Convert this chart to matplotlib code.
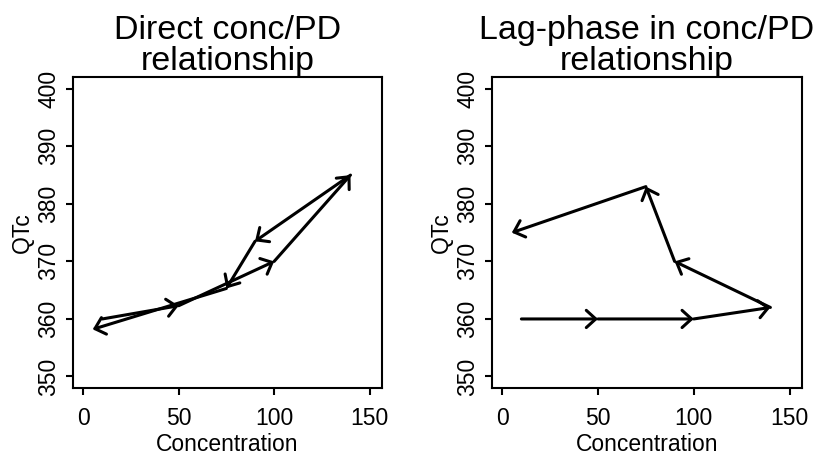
import matplotlib
matplotlib.use("Agg")
import matplotlib.pyplot as plt

# ==============================
# DATA
# ==============================
conc = [10, 50, 100, 140, 90, 75, 5]
qtc_direct = [360, 362.3, 370, 385, 373.5, 365.3, 358.2]
qtc_lag = [360, 360, 360, 362, 370, 383, 375]

titles = ["Direct conc/PD\nrelationship", "Lag-phase in conc/PD\nrelationship"]
x_ticks = [0, 50, 100, 150]
y_ticks = [350, 360, 370, 380, 390, 400]

plt.rcParams["font.family"] = ["Liberation Sans", "DejaVu Sans"]

W, H = 814, 455
fig = plt.figure(figsize=(W / 100, H / 100), dpi=100)

# axes boxes in pixels: left, right, top, bottom
boxes = [(72.7, 382.0, 77.3, 388.0), (491.7, 802.0, 77.3, 388.0)]

ARROW = "->,head_length=0.68,head_width=0.62"

for box, title, qtc in zip(boxes, titles, [qtc_direct, qtc_lag]):
    l, r, t, b = box
    ax = fig.add_axes([l / W, 1 - b / H, (r - l) / W, (b - t) / H])
    ax.set_xlim(-5.5, 156.5)
    ax.set_ylim(348, 402)

    for i in range(len(conc) - 1):
        ax.annotate("", xy=(conc[i + 1], qtc[i + 1]), xytext=(conc[i], qtc[i]),
                    arrowprops=dict(arrowstyle=ARROW, mutation_scale=10, lw=2.2,
                                    color="black", shrinkA=0, shrinkB=0,
                                    joinstyle="round", capstyle="round"))

    ax.set_xticks(x_ticks)
    ax.set_yticks(y_ticks)
    ax.tick_params(axis="both", direction="out", length=5, width=1.5,
                   labelsize=16.5, colors="black")
    ax.tick_params(axis="x", pad=9)
    ax.tick_params(axis="y", pad=4, labelrotation=90)
    for lab in ax.get_yticklabels():
        lab.set_va("center")

    for sp in ax.spines.values():
        sp.set_linewidth(1.5)

    ax.set_xlabel("Concentration", fontsize=16.5, labelpad=1.5)
    ax.set_ylabel("QTc", fontsize=16.5)
    ax.yaxis.set_label_coords(-0.125, 0.5)
    ax.set_title(title, fontsize=24.5, linespacing=1.0, pad=5)

fig.savefig("out.png", dpi=100)
